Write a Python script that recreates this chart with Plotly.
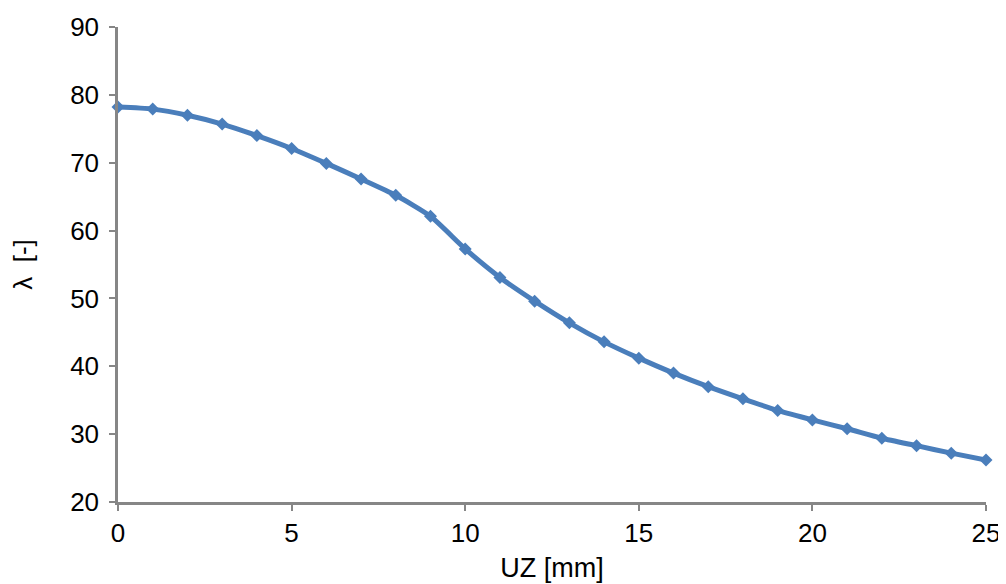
import plotly.graph_objects as go

uz_mm = [0, 1, 2, 3, 4, 5, 6, 7, 8, 9, 10, 11, 12, 13, 14, 15, 16, 17, 18, 19, 20, 21, 22, 23, 24, 25]
lam = [78.2, 77.9, 77.0, 75.7, 74.0, 72.1, 69.9, 67.6, 65.2, 62.1, 57.3, 53.1, 49.6, 46.4, 43.6,
       41.2, 39.0, 37.0, 35.2, 33.5, 32.1, 30.8, 29.4, 28.3, 27.2, 26.2]

x_ticks = [0, 5, 10, 15, 20, 25]
y_ticks = [20, 30, 40, 50, 60, 70, 80, 90]

FONT = "Liberation Sans, Arial"

fig = go.Figure()
fig.add_trace(go.Scatter(
    x=uz_mm, y=lam, mode="lines+markers",
    line=dict(color="#4A7EBB", width=5, shape="spline", smoothing=0.6),
    marker=dict(symbol="diamond", size=10, color="#4A7EBB"),
    cliponaxis=False, showlegend=False,
))

axis_common = dict(
    showgrid=False, zeroline=False, showline=True, linecolor="#868686", linewidth=2.5,
    ticks="outside", ticklen=6, tickwidth=2, tickcolor="#868686",
    tickfont=dict(family=FONT, size=26, color="#000000"),
    automargin=False,
)

fig.update_layout(
    width=998, height=576,
    margin=dict(l=110, r=20, t=19, b=82),
    paper_bgcolor="white", plot_bgcolor="white",
    xaxis=dict(range=[0, 25], tickvals=x_ticks,
               title=dict(text="UZ [mm]", font=dict(family=FONT, size=27, color="#000"), standoff=12),
               **axis_common),
    yaxis=dict(range=[20, 90], tickvals=y_ticks, ticklabelstandoff=5,
               title=dict(text="λ  [-]", font=dict(family=FONT, size=26, color="#000"), standoff=34),
               **axis_common),
)

fig.write_html("out.html")
